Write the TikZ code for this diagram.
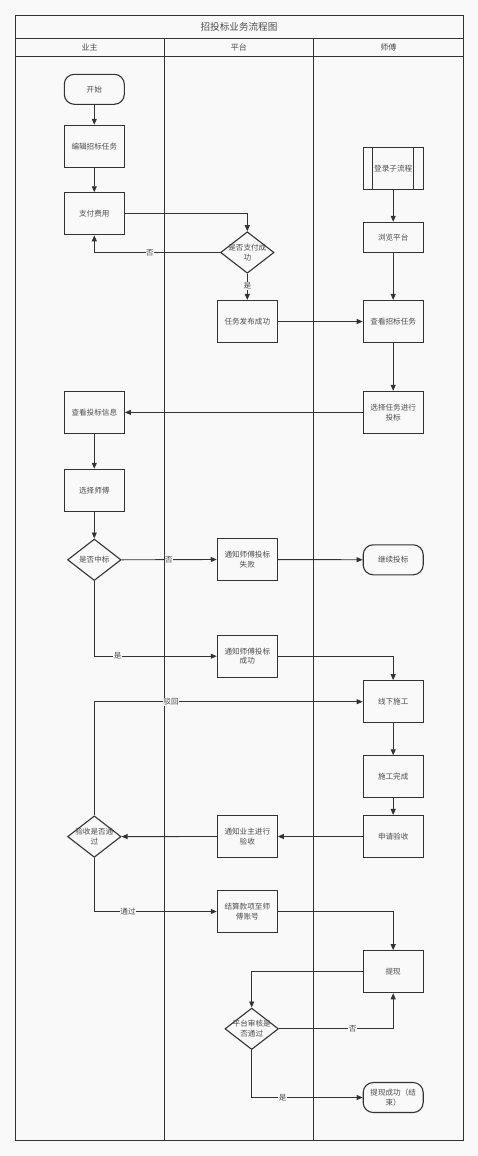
\documentclass[tikz,border=0pt]{standalone}
\usepackage{fontspec}
\setmainfont{Noto Sans CJK SC}
\usetikzlibrary{arrows.meta,shapes.geometric}
\definecolor{bg}{HTML}{F9F9F9}
\definecolor{ln}{HTML}{333333}
\definecolor{tx}{HTML}{4D4D4D}
\begin{document}
\begin{tikzpicture}[x=1pt,y=-1pt,
 every node/.style={font=\fontsize{7.6}{9.5}\selectfont, text=tx, align=center},
 box/.style={draw=ln, line width=1.1pt, fill=bg, minimum width=60pt, minimum height=42pt, inner sep=0pt},
 term/.style={draw=ln, line width=1.1pt, fill=bg, minimum width=60pt, minimum height=30pt, rounded corners=10pt, inner sep=0pt},
 dia/.style={draw=ln, line width=1.1pt, fill=bg, diamond, minimum width=53.5pt, minimum height=41.5pt, inner sep=0pt},
 dtext/.style={inner sep=0pt},
 conn/.style={draw=ln, line width=0.9pt, -{Triangle[length=6pt,width=5pt]}},
 lab/.style={fill=bg, inner sep=0.6pt},
 lane/.style={draw=ln, line width=0.9pt},
 head/.style={font=\fontsize{8}{10}\selectfont},
 title/.style={font=\fontsize{9.6}{12}\selectfont}
]
\useasboundingbox (0,0) rectangle (478,1156);
\fill[bg] (0,0) rectangle (478,1156);

% swimlane frame
\draw[lane] (15,15) rectangle (463,1140.5);
\draw[lane] (15,38.7) -- (463,38.7);
\draw[lane] (15,56.7) -- (463,56.7);
\draw[lane] (164,38.7) -- (164,1140.5);
\draw[lane] (313.5,38.7) -- (313.5,1140.5);
\node[title] (ttl) at (239,27) {招投标业务流程图};
\node[head] (h1) at (89.5,47.7) {业主};
\node[head] (h2) at (238.8,47.7) {平台};
\node[head] (h3) at (388.3,47.7) {师傅};

% nodes
\node[term] (start) at (94.3,89.3) {开始};
\node[box] (edit) at (94.3,146.3) {编辑招标任务};
\node[box] (pay) at (94.3,213.8) {支付费用};
\node[dia] (d1) at (247.3,252.5) {};
\node[dtext] at (d1.center) {是否支付成\\功};
\node[box] (pub) at (247.3,321.5) {任务发布成功};
\node[box] (login) at (393.2,168.5) {登录子流程};
\draw[ln, line width=1.1pt] ([xshift=10pt]login.north west) -- ([xshift=10pt]login.south west);
\draw[ln, line width=1.1pt] ([xshift=-10pt]login.north east) -- ([xshift=-10pt]login.south east);
\node[box, minimum height=30pt] (browse) at (393.2,237.3) {浏览平台};
\node[box] (view) at (393.2,321.5) {查看招标任务};
\node[box] (sel) at (393.2,412.4) {选择任务进行\\投标};
\node[box] (info) at (94.3,412.4) {查看投标信息};
\node[box] (choose) at (94.3,490.3) {选择师傅};
\node[dia] (d2) at (94.3,559.8) {};
\node[dtext] at (d2.center) {是否中标};
\node[box] (fail) at (247.3,559.5) {通知师傅投标\\失败};
\node[term] (cont) at (393.2,559.8) {继续投标};
\node[box] (succ) at (247.3,656.2) {通知师傅投标\\成功};
\node[box] (offline) at (393.2,701.7) {线下施工};
\node[box] (done) at (393.2,776.8) {施工完成};
\node[box] (apply) at (393.2,836.5) {申请验收};
\node[box] (notify) at (247.3,836.5) {通知业主进行\\验收};
\node[dia] (d3) at (94.3,836.6) {};
\node[dtext] at (d3.center) {验收是否通\\过};
\node[box] (settle) at (247.3,911.5) {结算款项至师\\傅账号};
\node[box] (withdraw) at (393.2,971.7) {提现};
\node[dia] (d4) at (251.7,1028.8) {};
\node[dtext] at (d4.center) {平台审核是\\否通过};
\node[term] (end) at (393.2,1097.5) {提现成功（结\\束）};

% connectors
\draw[conn] (start) -- (edit);
\draw[conn] (edit) -- (pay);
\draw[conn] (pay.east) -| (d1.north);
\draw[conn] (d1.west) -| (pay.south);
\draw[conn] (d1.south) -- (pub.north);
\draw[conn] (login) -- (browse);
\draw[conn] (browse) -- (view);
\draw[conn] (pub) -- (view);
\draw[conn] (view) -- (sel);
\draw[conn] (sel) -- (info);
\draw[conn] (info) -- (choose);
\draw[conn] (choose) -- (d2.north);
\draw[conn] (d2.east) -- (fail.west);
\draw[conn] (fail) -- (cont);
\draw[conn] (d2.south) |- (succ.west);
\draw[conn] (succ.east) -| (offline.north);
\draw[conn] (offline) -- (done);
\draw[conn] (done) -- (apply);
\draw[conn] (apply) -- (notify);
\draw[conn] (notify.west) -- (d3.east);
\draw[conn] (d3.north) |- (offline.west);
\draw[conn] (d3.south) |- (settle.west);
\draw[conn] (settle.east) -| (withdraw.north);
\draw[conn] (withdraw.west) -| (d4.north);
\draw[conn] (d4.east) -| (withdraw.south);
\draw[conn] (d4.south) |- (end.west);

% edge labels
\node[lab] (l1) at (150,252.5) {否};
\node[lab] (l2) at (247.3,285.7) {是};
\node[lab] (l3) at (169,559.8) {否};
\node[lab] (l4) at (117.7,656.2) {是};
\node[lab] (l5) at (171,701.7) {驳回};
\node[lab] (l6) at (128,911.5) {通过};
\node[lab] (l7) at (352.7,1028.8) {否};
\node[lab] (l8) at (282.7,1097.5) {是};
\end{tikzpicture}
\end{document}
